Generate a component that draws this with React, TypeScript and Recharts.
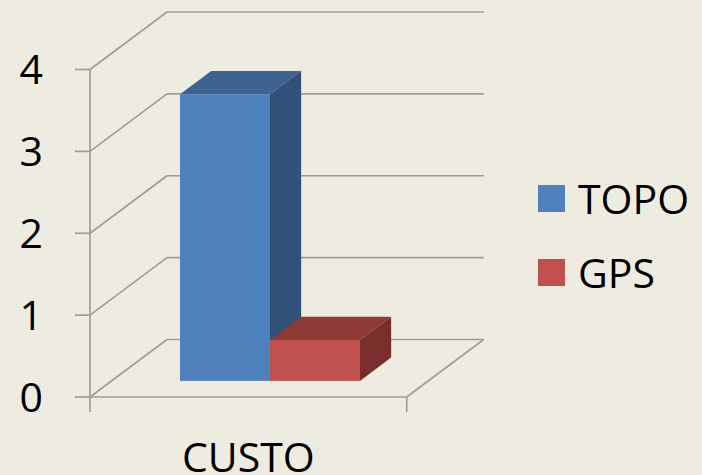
import { BarChart, Bar, XAxis, YAxis, CartesianGrid } from "recharts";

const categories = ["CUSTO"];
const topoValues = [3.5];
const gpsValues = [0.5];
const yTicks = [0, 1, 2, 3, 4];
const seriesNames = ["TOPO", "GPS"];

const FONT = "'Open Sans', sans-serif";
const BG = "#EEECE1";
const GRID = "#9E9E9E";

// depth of the 3D box (back wall offset from the front plane)
const DEPTH_X = 77;
const DEPTH_Y = 57.5;
// bars sit inside the depth: front face offset and bar thickness, as fractions
const BAR_FRONT = 0.28;
const BAR_DEPTH = 0.405;

const palette: Record<string, { front: string; top: string; side: string }> = {
  TOPO: { front: "#4F81BD", top: "#3D6491", side: "#30517A" },
  GPS: { front: "#C0504D", top: "#8D3936", side: "#7A2E2C" },
};

const data = categories.map((name, i) => ({
  name,
  TOPO: topoValues[i],
  GPS: gpsValues[i],
}));

// each horizontal grid line becomes a left-wall diagonal + back-wall line;
// the first one (value 0) also draws the floor edges and the small axis ticks
function GridLine(props: any) {
  const { x1, x2, y1, index } = props;
  const bx = x1 + DEPTH_X;
  const by = y1 - DEPTH_Y;
  const line = { stroke: GRID, strokeWidth: 1.7, fill: "none" };
  const isFloor = index === 0;
  return (
    <g>
      <line x1={x1} y1={y1} x2={bx} y2={by} {...line} />
      <line x1={bx} y1={by} x2={x2 + DEPTH_X} y2={by} {...line} />
      {isFloor && (
        <>
          <line x1={x1} y1={y1} x2={x2} y2={y1} {...line} />
          <line x1={x2} y1={y1} x2={x2 + DEPTH_X} y2={by} {...line} />
          <line x1={x1} y1={y1} x2={x1} y2={y1 + 15} {...line} />
          <line x1={x2} y1={y1} x2={x2} y2={y1 + 15} {...line} />
        </>
      )}
    </g>
  );
}

function Box3D(props: any) {
  const { x, y, width, height, dataKey } = props;
  if (height == null || width == null) return null;
  const c = palette[dataKey];
  const fx = x + DEPTH_X * BAR_FRONT;
  const fy = y - DEPTH_Y * BAR_FRONT;
  const dx = DEPTH_X * BAR_DEPTH;
  const dy = DEPTH_Y * BAR_DEPTH;
  const top = `${fx},${fy} ${fx + dx},${fy - dy} ${fx + width + dx},${fy - dy} ${fx + width},${fy}`;
  const side = `${fx + width},${fy} ${fx + width + dx},${fy - dy} ${fx + width + dx},${fy - dy + height} ${fx + width},${fy + height}`;
  return (
    <g>
      <polygon points={top} fill={c.top} />
      <polygon points={side} fill={c.side} />
      <rect x={fx} y={fy} width={width} height={height} fill={c.front} />
    </g>
  );
}

function CategoryTick(props: any) {
  const { x, y, payload } = props;
  return (
    <text x={x} y={y + 46} dy="0.71em" textAnchor="middle" fontFamily={FONT} fontSize={41} fill="#000">
      {payload.value}
    </text>
  );
}

export default function App() {
  return (
    <div style={{ position: "absolute", left: 0, top: 0, width: 702, height: 475, background: BG, overflow: "hidden" }}>
      <BarChart
        width={702}
        height={475}
        data={data}
        margin={{ top: 69.5, right: 295.3, left: 0, bottom: 0 }}
        barCategoryGap="21.6%"
        barGap={0}
      >
        <CartesianGrid vertical={false} horizontal={(p: any) => <GridLine {...p} key={p.key} />} />
        <XAxis dataKey="name" height={78} axisLine={false} tickLine={false} tickSize={0} tickMargin={0} tick={<CategoryTick />} />
        <YAxis
          width={90}
          domain={[0, 4]}
          ticks={yTicks}
          interval={0}
          tickSize={15}
          tickMargin={32}
          axisLine={{ stroke: GRID, strokeWidth: 1.7 }}
          tickLine={{ stroke: GRID, strokeWidth: 1.7 }}
          tick={{ fill: "#000", fontSize: 41, fontFamily: FONT }}
        />
        {seriesNames.map((s) => (
          <Bar key={s} dataKey={s} isAnimationActive={false} shape={<Box3D dataKey={s} />} />
        ))}
      </BarChart>
      {seriesNames.map((s, i) => (
        <div
          key={s}
          style={{ position: "absolute", left: 538, top: 172 + i * 74, display: "flex", alignItems: "center", fontFamily: FONT, fontSize: 41, lineHeight: "52px", color: "#000" }}
        >
          <span style={{ display: "inline-block", width: 27, height: 27, background: palette[s].front, marginRight: 13 }} />
          <span>{s}</span>
        </div>
      ))}
    </div>
  );
}
